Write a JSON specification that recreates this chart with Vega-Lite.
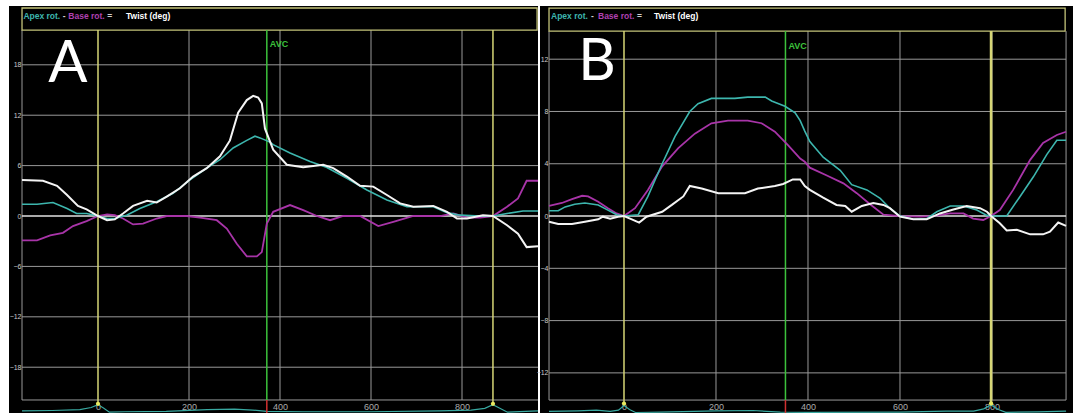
{
"$schema": "https://vega.github.io/schema/vega-lite/v6.json",
"background": "white",
"padding": {"left": 9, "top": 6, "right": 0, "bottom": 0},
"bounds": "flush",
"spacing": 2,
"datasets": {
"vgrid": [{"v":200},{"v":400},{"v":600},{"v":800}],
"zero": [{"v":0}],
"frame": [{"part":"frame"}],
"hgridA": [{"v":18},{"v":12},{"v":6},{"v":-6},{"v":-12},{"v":-18}],
"hgridB": [{"v":12},{"v":8},{"v":4},{"v":-4},{"v":-8},{"v":-12}],
"eventsA": [{"event":"start","t":0},{"event":"end","t":868}],
"eventsB": [{"event":"start","t":0},{"event":"end","t":798}],
"avcA": [{"event":"AVC","t":371}],
"avcB": [{"event":"AVC","t":351}],
"markersA": [{"t":0,"v":-22.35},{"t":868,"v":-22.35}],
"markersB": [{"t":0,"v":-14.35},{"t":798,"v":-14.35}],
"ecgA": [{"t":-167,"v":-23.2},{"t":-100,"v":-23.15},{"t":-40,"v":-23.05},{"t":-15,"v":-22.8},{"t":0,"v":-22.45},{"t":12,"v":-22.85},{"t":25,"v":-23.35},{"t":60,"v":-23.3},{"t":150,"v":-23.25},{"t":240,"v":-23.05},{"t":300,"v":-23.0},{"t":340,"v":-23.1},{"t":371,"v":-23.25},{"t":450,"v":-23.3},{"t":600,"v":-23.3},{"t":750,"v":-23.2},{"t":820,"v":-23.1},{"t":850,"v":-22.9},{"t":868,"v":-22.45},{"t":882,"v":-22.85},{"t":900,"v":-23.35},{"t":940,"v":-23.25},{"t":967,"v":-23.2}],
"ecgB": [{"t":-163,"v":-14.95},{"t":-100,"v":-14.9},{"t":-60,"v":-14.85},{"t":-30,"v":-14.95},{"t":-12,"v":-14.85},{"t":0,"v":-14.5},{"t":12,"v":-14.8},{"t":25,"v":-15.03},{"t":80,"v":-15.0},{"t":200,"v":-14.9},{"t":280,"v":-14.88},{"t":340,"v":-15.0},{"t":400,"v":-15.02},{"t":600,"v":-15.0},{"t":700,"v":-14.92},{"t":760,"v":-14.92},{"t":782,"v":-14.75},{"t":798,"v":-14.45},{"t":814,"v":-14.8},{"t":830,"v":-15.02},{"t":900,"v":-14.98},{"t":961,"v":-14.92}],
"apexA": [{"t":-167,"deg":1.4},{"t":-134,"deg":1.4},{"t":-99,"deg":1.6},{"t":-68,"deg":0.9},{"t":-47,"deg":0.3},{"t":-25,"deg":0.3},{"t":0,"deg":0},{"t":20,"deg":-0.3},{"t":37,"deg":-0.3},{"t":63,"deg":0.1},{"t":92,"deg":0.9},{"t":129,"deg":1.7},{"t":165,"deg":2.7},{"t":202,"deg":4.3},{"t":239,"deg":5.7},{"t":268,"deg":6.7},{"t":297,"deg":8.1},{"t":327,"deg":9.0},{"t":345,"deg":9.5},{"t":356,"deg":9.3},{"t":378,"deg":8.8},{"t":385,"deg":8.5},{"t":422,"deg":7.5},{"t":466,"deg":6.5},{"t":502,"deg":5.8},{"t":547,"deg":4.5},{"t":591,"deg":3.1},{"t":635,"deg":1.9},{"t":679,"deg":1.1},{"t":737,"deg":1.1},{"t":767,"deg":0.4},{"t":796,"deg":0.1},{"t":840,"deg":0},{"t":868,"deg":0},{"t":899,"deg":0.3},{"t":934,"deg":0.6},{"t":967,"deg":0.6}],
"baseA": [{"t":-167,"deg":-2.9},{"t":-134,"deg":-2.9},{"t":-105,"deg":-2.3},{"t":-77,"deg":-2.0},{"t":-55,"deg":-1.2},{"t":-25,"deg":-0.6},{"t":0,"deg":0},{"t":20,"deg":0.2},{"t":37,"deg":0.1},{"t":55,"deg":-0.3},{"t":77,"deg":-1.0},{"t":99,"deg":-0.9},{"t":129,"deg":-0.3},{"t":151,"deg":0},{"t":195,"deg":0},{"t":224,"deg":-0.2},{"t":261,"deg":-0.5},{"t":283,"deg":-1.5},{"t":305,"deg":-3.3},{"t":327,"deg":-4.8},{"t":349,"deg":-4.8},{"t":360,"deg":-4.3},{"t":371,"deg":-0.9},{"t":385,"deg":0.5},{"t":422,"deg":1.3},{"t":451,"deg":0.7},{"t":481,"deg":0},{"t":510,"deg":-0.5},{"t":539,"deg":0},{"t":576,"deg":0},{"t":616,"deg":-1.2},{"t":649,"deg":-0.7},{"t":693,"deg":0},{"t":752,"deg":0},{"t":781,"deg":0.3},{"t":811,"deg":-0.2},{"t":840,"deg":-0.2},{"t":868,"deg":0},{"t":899,"deg":1.1},{"t":923,"deg":2.1},{"t":942,"deg":4.2},{"t":967,"deg":4.2}],
"twistA": [{"t":-167,"deg":4.3},{"t":-121,"deg":4.2},{"t":-90,"deg":3.6},{"t":-68,"deg":2.5},{"t":-44,"deg":1.2},{"t":-25,"deg":0.8},{"t":0,"deg":0},{"t":20,"deg":-0.5},{"t":37,"deg":-0.4},{"t":55,"deg":0.3},{"t":77,"deg":1.2},{"t":108,"deg":1.8},{"t":129,"deg":1.6},{"t":151,"deg":2.3},{"t":180,"deg":3.3},{"t":209,"deg":4.7},{"t":239,"deg":5.7},{"t":268,"deg":7.1},{"t":290,"deg":9.0},{"t":308,"deg":12.3},{"t":327,"deg":13.8},{"t":341,"deg":14.3},{"t":352,"deg":14.1},{"t":360,"deg":13.4},{"t":367,"deg":10.4},{"t":385,"deg":7.9},{"t":415,"deg":6.1},{"t":451,"deg":5.8},{"t":495,"deg":6.1},{"t":517,"deg":5.7},{"t":547,"deg":4.7},{"t":576,"deg":3.6},{"t":605,"deg":3.5},{"t":635,"deg":2.5},{"t":664,"deg":1.5},{"t":693,"deg":1.1},{"t":737,"deg":1.2},{"t":767,"deg":0.5},{"t":789,"deg":-0.3},{"t":811,"deg":-0.3},{"t":846,"deg":0.1},{"t":868,"deg":0},{"t":899,"deg":-1.1},{"t":923,"deg":-2.1},{"t":942,"deg":-3.7},{"t":967,"deg":-3.6}],
"apexB": [{"t":-163,"deg":0.4},{"t":-143,"deg":0.4},{"t":-128,"deg":0.7},{"t":-107,"deg":0.9},{"t":-85,"deg":1.0},{"t":-56,"deg":0.85},{"t":-35,"deg":0.45},{"t":-16,"deg":0.1},{"t":0,"deg":0},{"t":31,"deg":0.1},{"t":52,"deg":1.5},{"t":83,"deg":4.0},{"t":111,"deg":6.1},{"t":143,"deg":8.0},{"t":161,"deg":8.6},{"t":190,"deg":9.0},{"t":241,"deg":9.0},{"t":269,"deg":9.1},{"t":307,"deg":9.1},{"t":321,"deg":8.8},{"t":350,"deg":8.4},{"t":372,"deg":7.9},{"t":383,"deg":7.3},{"t":393,"deg":6.5},{"t":404,"deg":5.7},{"t":433,"deg":4.5},{"t":470,"deg":3.5},{"t":495,"deg":2.4},{"t":528,"deg":2.0},{"t":557,"deg":1.35},{"t":578,"deg":0.6},{"t":600,"deg":0},{"t":629,"deg":-0.25},{"t":658,"deg":-0.2},{"t":680,"deg":0.33},{"t":709,"deg":0.77},{"t":738,"deg":0.77},{"t":767,"deg":0.46},{"t":789,"deg":0.05},{"t":798,"deg":0},{"t":832,"deg":0},{"t":861,"deg":1.5},{"t":890,"deg":3.0},{"t":919,"deg":4.7},{"t":941,"deg":5.8},{"t":961,"deg":5.8}],
"baseB": [{"t":-163,"deg":0.77},{"t":-135,"deg":1.0},{"t":-113,"deg":1.3},{"t":-91,"deg":1.55},{"t":-78,"deg":1.5},{"t":-56,"deg":1.1},{"t":-35,"deg":0.6},{"t":-16,"deg":0.2},{"t":0,"deg":0},{"t":24,"deg":0.6},{"t":52,"deg":2.0},{"t":83,"deg":3.8},{"t":118,"deg":5.2},{"t":154,"deg":6.3},{"t":190,"deg":7.1},{"t":226,"deg":7.3},{"t":269,"deg":7.3},{"t":299,"deg":7.1},{"t":328,"deg":6.45},{"t":357,"deg":5.4},{"t":383,"deg":4.4},{"t":393,"deg":4.15},{"t":404,"deg":3.7},{"t":441,"deg":3.1},{"t":477,"deg":2.5},{"t":506,"deg":1.75},{"t":535,"deg":0.9},{"t":564,"deg":0.1},{"t":600,"deg":0},{"t":643,"deg":-0.05},{"t":672,"deg":0},{"t":709,"deg":0.2},{"t":738,"deg":0.2},{"t":759,"deg":-0.2},{"t":781,"deg":-0.3},{"t":798,"deg":0},{"t":817,"deg":0.46},{"t":846,"deg":2.0},{"t":883,"deg":4.3},{"t":911,"deg":5.6},{"t":941,"deg":6.2},{"t":961,"deg":6.45}],
"twistB": [{"t":-163,"deg":-0.43},{"t":-143,"deg":-0.6},{"t":-113,"deg":-0.6},{"t":-85,"deg":-0.43},{"t":-56,"deg":-0.25},{"t":-46,"deg":-0.05},{"t":-30,"deg":-0.2},{"t":-13,"deg":-0.05},{"t":0,"deg":0},{"t":17,"deg":-0.25},{"t":33,"deg":-0.5},{"t":49,"deg":-0.05},{"t":83,"deg":0.33},{"t":104,"deg":0.85},{"t":129,"deg":1.5},{"t":143,"deg":2.3},{"t":169,"deg":2.1},{"t":205,"deg":1.75},{"t":263,"deg":1.75},{"t":291,"deg":2.1},{"t":328,"deg":2.3},{"t":346,"deg":2.45},{"t":367,"deg":2.8},{"t":383,"deg":2.8},{"t":393,"deg":2.3},{"t":404,"deg":2.0},{"t":433,"deg":1.4},{"t":462,"deg":0.85},{"t":481,"deg":0.77},{"t":495,"deg":0.33},{"t":517,"deg":0.77},{"t":542,"deg":1.0},{"t":564,"deg":0.85},{"t":578,"deg":0.6},{"t":600,"deg":-0.05},{"t":629,"deg":-0.25},{"t":658,"deg":-0.25},{"t":687,"deg":0.2},{"t":716,"deg":0.5},{"t":745,"deg":0.77},{"t":774,"deg":0.6},{"t":789,"deg":0.33},{"t":798,"deg":0},{"t":817,"deg":-0.55},{"t":832,"deg":-1.1},{"t":854,"deg":-1.05},{"t":883,"deg":-1.4},{"t":911,"deg":-1.4},{"t":926,"deg":-1.2},{"t":944,"deg":-0.5},{"t":961,"deg":-0.75}]
},
"hconcat": [
{
"width": 529, "height": 407,
"layer": [
{"data":{"name":"hgridA"},"mark":{"type":"rule","color":"#999999","strokeWidth":1},
 "encoding":{"y":{"field":"v","type":"quantitative","scale":{"domain":[-23.45,25.0],"nice":false,"zero":false},"axis":{"orient":"left","offset":-13,"values":[-18,-12,-6,0,6,12,18],"grid":false,"domain":false,"ticks":false,"labelPadding":1,"labelFontSize":7,"labelColor":"#cccccc","labelFont":"Liberation Sans","title":null}},
 "x":{"datum":-167,"type":"quantitative","scale":{"domain":[-195.6,967],"nice":false,"zero":false}},"x2":{"datum":967}}},
{"data":{"name":"vgrid"},"mark":{"type":"rule","color":"#999999","strokeWidth":1},
 "encoding":{"x":{"field":"v","type":"quantitative","scale":{"domain":[-195.6,967],"nice":false,"zero":false},"axis":{"orient":"bottom","offset":-13,"values":[0,200,400,600,800],"grid":false,"domain":false,"ticks":false,"labelPadding":2,"labelFontSize":9,"labelColor":"#aaaaaa","labelFont":"Liberation Sans","title":null}},
 "y":{"datum":-21.9,"type":"quantitative","scale":{"domain":[-23.45,25.0],"nice":false,"zero":false}},"y2":{"datum":22.14}}},
{"data":{"name":"frame"},"mark":{"type":"rule","color":"#999999","strokeWidth":1},
 "encoding":{"x":{"datum":-167,"type":"quantitative","scale":{"domain":[-195.6,967],"nice":false,"zero":false}},"y":{"datum":-21.9,"type":"quantitative","scale":{"domain":[-23.45,25.0],"nice":false,"zero":false}},"y2":{"datum":22.14}}},
{"data":{"name":"frame"},"mark":{"type":"rule","color":"#999999","strokeWidth":1},
 "encoding":{"y":{"datum":-21.9,"type":"quantitative","scale":{"domain":[-23.45,25.0],"nice":false,"zero":false}},"x":{"datum":-167,"type":"quantitative","scale":{"domain":[-195.6,967],"nice":false,"zero":false}},"x2":{"datum":967}}},
{"data":{"name":"zero"},"mark":{"type":"rule","color":"#e2e2e2","strokeWidth":1.5},
 "encoding":{"y":{"field":"v","type":"quantitative","scale":{"domain":[-23.45,25.0],"nice":false,"zero":false}},"x":{"datum":-167,"type":"quantitative","scale":{"domain":[-195.6,967],"nice":false,"zero":false}},"x2":{"datum":967}}},
{"data":{"name":"frame"},"mark":{"type":"rect","fill":"black","stroke":"#c4c47a","strokeWidth":1.3},
 "encoding":{"x":{"datum":-167,"type":"quantitative","scale":{"domain":[-195.6,967],"nice":false,"zero":false}},"x2":{"datum":965},"y":{"datum":22.14,"type":"quantitative","scale":{"domain":[-23.45,25.0],"nice":false,"zero":false}},"y2":{"datum":24.76}}},
{"data":{"values":[{"term":"Apex rot."}]},"mark":{"type":"text","align":"left","baseline":"alphabetic","fontSize":8.5,"fontWeight":"bold","font":"Liberation Sans","color":"#3db6ae"},
 "encoding":{"text":{"field":"term"},"x":{"datum":-164,"type":"quantitative","scale":{"domain":[-195.6,967],"nice":false,"zero":false}},"y":{"datum":23.45,"type":"quantitative","scale":{"domain":[-23.45,25.0],"nice":false,"zero":false}}}},
{"data":{"values":[{"term":"-"}]},"mark":{"type":"text","align":"left","baseline":"alphabetic","fontSize":8.5,"fontWeight":"bold","font":"Liberation Sans","color":"#d0d0d0"},
 "encoding":{"text":{"field":"term"},"x":{"datum":-77.6,"type":"quantitative","scale":{"domain":[-195.6,967],"nice":false,"zero":false}},"y":{"datum":23.45,"type":"quantitative","scale":{"domain":[-23.45,25.0],"nice":false,"zero":false}}}},
{"data":{"values":[{"term":"Base rot."}]},"mark":{"type":"text","align":"left","baseline":"alphabetic","fontSize":8.5,"fontWeight":"bold","font":"Liberation Sans","color":"#b040b0"},
 "encoding":{"text":{"field":"term"},"x":{"datum":-65.2,"type":"quantitative","scale":{"domain":[-195.6,967],"nice":false,"zero":false}},"y":{"datum":23.45,"type":"quantitative","scale":{"domain":[-23.45,25.0],"nice":false,"zero":false}}}},
{"data":{"values":[{"term":"="}]},"mark":{"type":"text","align":"left","baseline":"alphabetic","fontSize":8.5,"fontWeight":"bold","font":"Liberation Sans","color":"#d0d0d0"},
 "encoding":{"text":{"field":"term"},"x":{"datum":20.5,"type":"quantitative","scale":{"domain":[-195.6,967],"nice":false,"zero":false}},"y":{"datum":23.45,"type":"quantitative","scale":{"domain":[-23.45,25.0],"nice":false,"zero":false}}}},
{"data":{"values":[{"term":"Twist (deg)"}]},"mark":{"type":"text","align":"left","baseline":"alphabetic","fontSize":8.5,"fontWeight":"bold","font":"Liberation Sans","color":"#ffffff"},
 "encoding":{"text":{"field":"term"},"x":{"datum":61.5,"type":"quantitative","scale":{"domain":[-195.6,967],"nice":false,"zero":false}},"y":{"datum":23.45,"type":"quantitative","scale":{"domain":[-23.45,25.0],"nice":false,"zero":false}}}},
{"data":{"values":[{"panel":"A"}]},"mark":{"type":"text","align":"center","baseline":"alphabetic","fontSize":58,"font":"Lato","color":"#ffffff"},
 "encoding":{"text":{"field":"panel"},"x":{"datum":-66,"type":"quantitative","scale":{"domain":[-195.6,967],"nice":false,"zero":false}},"y":{"datum":15.95,"type":"quantitative","scale":{"domain":[-23.45,25.0],"nice":false,"zero":false}}}},
{"data":{"name":"ecgA"},"mark":{"type":"line","color":"#38a8a0","strokeWidth":1.2},
 "encoding":{"x":{"field":"t","type":"quantitative","scale":{"domain":[-195.6,967],"nice":false,"zero":false}},"y":{"field":"v","type":"quantitative","scale":{"domain":[-23.45,25.0],"nice":false,"zero":false}}}},
{"data":{"name":"eventsA"},"mark":{"type":"rule","strokeWidth":1.5,"color":"#d6d676"},
 "encoding":{"x":{"field":"t","type":"quantitative","scale":{"domain":[-195.6,967],"nice":false,"zero":false}},"y":{"datum":-22.35,"type":"quantitative","scale":{"domain":[-23.45,25.0],"nice":false,"zero":false}},"y2":{"datum":22.14}}},
{"data":{"name":"avcA"},"mark":{"type":"rule","strokeWidth":1.5,"color":"#3cc23c"},
 "encoding":{"x":{"field":"t","type":"quantitative","scale":{"domain":[-195.6,967],"nice":false,"zero":false}},"y":{"datum":-21.9,"type":"quantitative","scale":{"domain":[-23.45,25.0],"nice":false,"zero":false}},"y2":{"datum":22.14}}},
{"data":{"name":"avcA"},"mark":{"type":"rule","strokeWidth":1.5,"color":"#d03030"},
 "encoding":{"x":{"field":"t","type":"quantitative","scale":{"domain":[-195.6,967],"nice":false,"zero":false}},"y":{"datum":-21.9,"type":"quantitative","scale":{"domain":[-23.45,25.0],"nice":false,"zero":false}},"y2":{"datum":-23.45}}},
{"data":{"name":"avcA"},"mark":{"type":"text","align":"left","baseline":"alphabetic","dx":3,"fontSize":9,"fontWeight":"bold","font":"Liberation Sans","color":"#3cc23c"},
 "encoding":{"text":{"field":"event"},"x":{"field":"t","type":"quantitative","scale":{"domain":[-195.6,967],"nice":false,"zero":false}},"y":{"datum":20.1,"type":"quantitative","scale":{"domain":[-23.45,25.0],"nice":false,"zero":false}}}},
{"data":{"name":"baseA"},"mark":{"type":"line","color":"#a834a8","strokeWidth":1.8},
 "encoding":{"x":{"field":"t","type":"quantitative","scale":{"domain":[-195.6,967],"nice":false,"zero":false}},"y":{"field":"deg","type":"quantitative","scale":{"domain":[-23.45,25.0],"nice":false,"zero":false}}}},
{"data":{"name":"apexA"},"mark":{"type":"line","color":"#3db6ae","strokeWidth":1.6},
 "encoding":{"x":{"field":"t","type":"quantitative","scale":{"domain":[-195.6,967],"nice":false,"zero":false}},"y":{"field":"deg","type":"quantitative","scale":{"domain":[-23.45,25.0],"nice":false,"zero":false}}}},
{"data":{"name":"twistA"},"mark":{"type":"line","color":"#f4f4f4","strokeWidth":2},
 "encoding":{"x":{"field":"t","type":"quantitative","scale":{"domain":[-195.6,967],"nice":false,"zero":false}},"y":{"field":"deg","type":"quantitative","scale":{"domain":[-23.45,25.0],"nice":false,"zero":false}}}},
{"data":{"name":"markersA"},"mark":{"type":"point","filled":true,"color":"#e8e860","size":18,"opacity":1},
 "encoding":{"x":{"field":"t","type":"quantitative","scale":{"domain":[-195.6,967],"nice":false,"zero":false}},"y":{"field":"v","type":"quantitative","scale":{"domain":[-23.45,25.0],"nice":false,"zero":false}}}}
]
},
{
"width": 533, "height": 407,
"layer": [
{"data":{"name":"hgridB"},"mark":{"type":"rule","color":"#999999","strokeWidth":1},
 "encoding":{"y":{"field":"v","type":"quantitative","scale":{"domain":[-15.07,16.07],"nice":false,"zero":false},"axis":{"orient":"left","offset":-9,"values":[-12,-8,-4,0,4,8,12],"grid":false,"domain":false,"ticks":false,"labelPadding":1,"labelFontSize":7,"labelColor":"#cccccc","labelFont":"Liberation Sans","title":null}},
 "x":{"datum":-163,"type":"quantitative","scale":{"domain":[-182.6,976.1],"nice":false,"zero":false}},"x2":{"datum":961}}},
{"data":{"name":"vgrid"},"mark":{"type":"rule","color":"#999999","strokeWidth":1},
 "encoding":{"x":{"field":"v","type":"quantitative","scale":{"domain":[-182.6,976.1],"nice":false,"zero":false},"axis":{"orient":"bottom","offset":-13,"values":[0,200,400,600,800],"grid":false,"domain":false,"ticks":false,"labelPadding":2,"labelFontSize":9,"labelColor":"#aaaaaa","labelFont":"Liberation Sans","title":null}},
 "y":{"datum":-14.08,"type":"quantitative","scale":{"domain":[-15.07,16.07],"nice":false,"zero":false}},"y2":{"datum":14.15}}},
{"data":{"name":"frame"},"mark":{"type":"rule","color":"#999999","strokeWidth":1},
 "encoding":{"x":{"datum":-163,"type":"quantitative","scale":{"domain":[-182.6,976.1],"nice":false,"zero":false}},"y":{"datum":-14.08,"type":"quantitative","scale":{"domain":[-15.07,16.07],"nice":false,"zero":false}},"y2":{"datum":14.15}}},
{"data":{"name":"frame"},"mark":{"type":"rule","color":"#999999","strokeWidth":1},
 "encoding":{"x":{"datum":961,"type":"quantitative","scale":{"domain":[-182.6,976.1],"nice":false,"zero":false}},"y":{"datum":-14.08,"type":"quantitative","scale":{"domain":[-15.07,16.07],"nice":false,"zero":false}},"y2":{"datum":14.15}}},
{"data":{"name":"frame"},"mark":{"type":"rule","color":"#999999","strokeWidth":1},
 "encoding":{"y":{"datum":-14.08,"type":"quantitative","scale":{"domain":[-15.07,16.07],"nice":false,"zero":false}},"x":{"datum":-163,"type":"quantitative","scale":{"domain":[-182.6,976.1],"nice":false,"zero":false}},"x2":{"datum":961}}},
{"data":{"name":"zero"},"mark":{"type":"rule","color":"#e2e2e2","strokeWidth":1.5},
 "encoding":{"y":{"field":"v","type":"quantitative","scale":{"domain":[-15.07,16.07],"nice":false,"zero":false}},"x":{"datum":-163,"type":"quantitative","scale":{"domain":[-182.6,976.1],"nice":false,"zero":false}},"x2":{"datum":961}}},
{"data":{"name":"frame"},"mark":{"type":"rect","fill":"black","stroke":"#c4c47a","strokeWidth":1.3},
 "encoding":{"x":{"datum":-163,"type":"quantitative","scale":{"domain":[-182.6,976.1],"nice":false,"zero":false}},"x2":{"datum":959},"y":{"datum":14.15,"type":"quantitative","scale":{"domain":[-15.07,16.07],"nice":false,"zero":false}},"y2":{"datum":15.91}}},
{"data":{"values":[{"term":"Apex rot."}]},"mark":{"type":"text","align":"left","baseline":"alphabetic","fontSize":8.5,"fontWeight":"bold","font":"Liberation Sans","color":"#3db6ae"},
 "encoding":{"text":{"field":"term"},"x":{"datum":-158.7,"type":"quantitative","scale":{"domain":[-182.6,976.1],"nice":false,"zero":false}},"y":{"datum":15.07,"type":"quantitative","scale":{"domain":[-15.07,16.07],"nice":false,"zero":false}}}},
{"data":{"values":[{"term":"-"}]},"mark":{"type":"text","align":"left","baseline":"alphabetic","fontSize":8.5,"fontWeight":"bold","font":"Liberation Sans","color":"#d0d0d0"},
 "encoding":{"text":{"field":"term"},"x":{"datum":-71.7,"type":"quantitative","scale":{"domain":[-182.6,976.1],"nice":false,"zero":false}},"y":{"datum":15.07,"type":"quantitative","scale":{"domain":[-15.07,16.07],"nice":false,"zero":false}}}},
{"data":{"values":[{"term":"Base rot."}]},"mark":{"type":"text","align":"left","baseline":"alphabetic","fontSize":8.5,"fontWeight":"bold","font":"Liberation Sans","color":"#b040b0"},
 "encoding":{"text":{"field":"term"},"x":{"datum":-56.5,"type":"quantitative","scale":{"domain":[-182.6,976.1],"nice":false,"zero":false}},"y":{"datum":15.07,"type":"quantitative","scale":{"domain":[-15.07,16.07],"nice":false,"zero":false}}}},
{"data":{"values":[{"term":"="}]},"mark":{"type":"text","align":"left","baseline":"alphabetic","fontSize":8.5,"fontWeight":"bold","font":"Liberation Sans","color":"#d0d0d0"},
 "encoding":{"text":{"field":"term"},"x":{"datum":28.3,"type":"quantitative","scale":{"domain":[-182.6,976.1],"nice":false,"zero":false}},"y":{"datum":15.07,"type":"quantitative","scale":{"domain":[-15.07,16.07],"nice":false,"zero":false}}}},
{"data":{"values":[{"term":"Twist (deg)"}]},"mark":{"type":"text","align":"left","baseline":"alphabetic","fontSize":8.5,"fontWeight":"bold","font":"Liberation Sans","color":"#ffffff"},
 "encoding":{"text":{"field":"term"},"x":{"datum":65.2,"type":"quantitative","scale":{"domain":[-182.6,976.1],"nice":false,"zero":false}},"y":{"datum":15.07,"type":"quantitative","scale":{"domain":[-15.07,16.07],"nice":false,"zero":false}}}},
{"data":{"values":[{"panel":"B"}]},"mark":{"type":"text","align":"center","baseline":"alphabetic","fontSize":58,"font":"Lato","color":"#ffffff"},
 "encoding":{"text":{"field":"panel"},"x":{"datum":-58.7,"type":"quantitative","scale":{"domain":[-182.6,976.1],"nice":false,"zero":false}},"y":{"datum":10.4,"type":"quantitative","scale":{"domain":[-15.07,16.07],"nice":false,"zero":false}}}},
{"data":{"name":"ecgB"},"mark":{"type":"line","color":"#38a8a0","strokeWidth":1.2},
 "encoding":{"x":{"field":"t","type":"quantitative","scale":{"domain":[-182.6,976.1],"nice":false,"zero":false}},"y":{"field":"v","type":"quantitative","scale":{"domain":[-15.07,16.07],"nice":false,"zero":false}}}},
{"data":{"name":"eventsB"},"mark":{"type":"rule","color":"#d6d676"},
 "encoding":{"x":{"field":"t","type":"quantitative","scale":{"domain":[-182.6,976.1],"nice":false,"zero":false}},"y":{"datum":-14.35,"type":"quantitative","scale":{"domain":[-15.07,16.07],"nice":false,"zero":false}},"y2":{"datum":14.15},
 "strokeWidth":{"condition":{"test":"datum.event === 'end'","value":2.6},"value":1.5}}},
{"data":{"name":"avcB"},"mark":{"type":"rule","strokeWidth":1.5,"color":"#3cc23c"},
 "encoding":{"x":{"field":"t","type":"quantitative","scale":{"domain":[-182.6,976.1],"nice":false,"zero":false}},"y":{"datum":-14.08,"type":"quantitative","scale":{"domain":[-15.07,16.07],"nice":false,"zero":false}},"y2":{"datum":14.15}}},
{"data":{"name":"avcB"},"mark":{"type":"rule","strokeWidth":1.5,"color":"#d03030"},
 "encoding":{"x":{"field":"t","type":"quantitative","scale":{"domain":[-182.6,976.1],"nice":false,"zero":false}},"y":{"datum":-14.08,"type":"quantitative","scale":{"domain":[-15.07,16.07],"nice":false,"zero":false}},"y2":{"datum":-15.07}}},
{"data":{"name":"avcB"},"mark":{"type":"text","align":"left","baseline":"alphabetic","dx":3,"fontSize":9,"fontWeight":"bold","font":"Liberation Sans","color":"#3cc23c"},
 "encoding":{"text":{"field":"event"},"x":{"field":"t","type":"quantitative","scale":{"domain":[-182.6,976.1],"nice":false,"zero":false}},"y":{"datum":12.78,"type":"quantitative","scale":{"domain":[-15.07,16.07],"nice":false,"zero":false}}}},
{"data":{"name":"baseB"},"mark":{"type":"line","color":"#a834a8","strokeWidth":1.8},
 "encoding":{"x":{"field":"t","type":"quantitative","scale":{"domain":[-182.6,976.1],"nice":false,"zero":false}},"y":{"field":"deg","type":"quantitative","scale":{"domain":[-15.07,16.07],"nice":false,"zero":false}}}},
{"data":{"name":"apexB"},"mark":{"type":"line","color":"#3db6ae","strokeWidth":1.6},
 "encoding":{"x":{"field":"t","type":"quantitative","scale":{"domain":[-182.6,976.1],"nice":false,"zero":false}},"y":{"field":"deg","type":"quantitative","scale":{"domain":[-15.07,16.07],"nice":false,"zero":false}}}},
{"data":{"name":"twistB"},"mark":{"type":"line","color":"#f4f4f4","strokeWidth":2},
 "encoding":{"x":{"field":"t","type":"quantitative","scale":{"domain":[-182.6,976.1],"nice":false,"zero":false}},"y":{"field":"deg","type":"quantitative","scale":{"domain":[-15.07,16.07],"nice":false,"zero":false}}}},
{"data":{"name":"markersB"},"mark":{"type":"point","filled":true,"color":"#e8e860","size":18,"opacity":1},
 "encoding":{"x":{"field":"t","type":"quantitative","scale":{"domain":[-182.6,976.1],"nice":false,"zero":false}},"y":{"field":"v","type":"quantitative","scale":{"domain":[-15.07,16.07],"nice":false,"zero":false}}}}
]
}
],
"config": {"view": {"fill": "black", "stroke": null}, "font": "Liberation Sans"}
}
